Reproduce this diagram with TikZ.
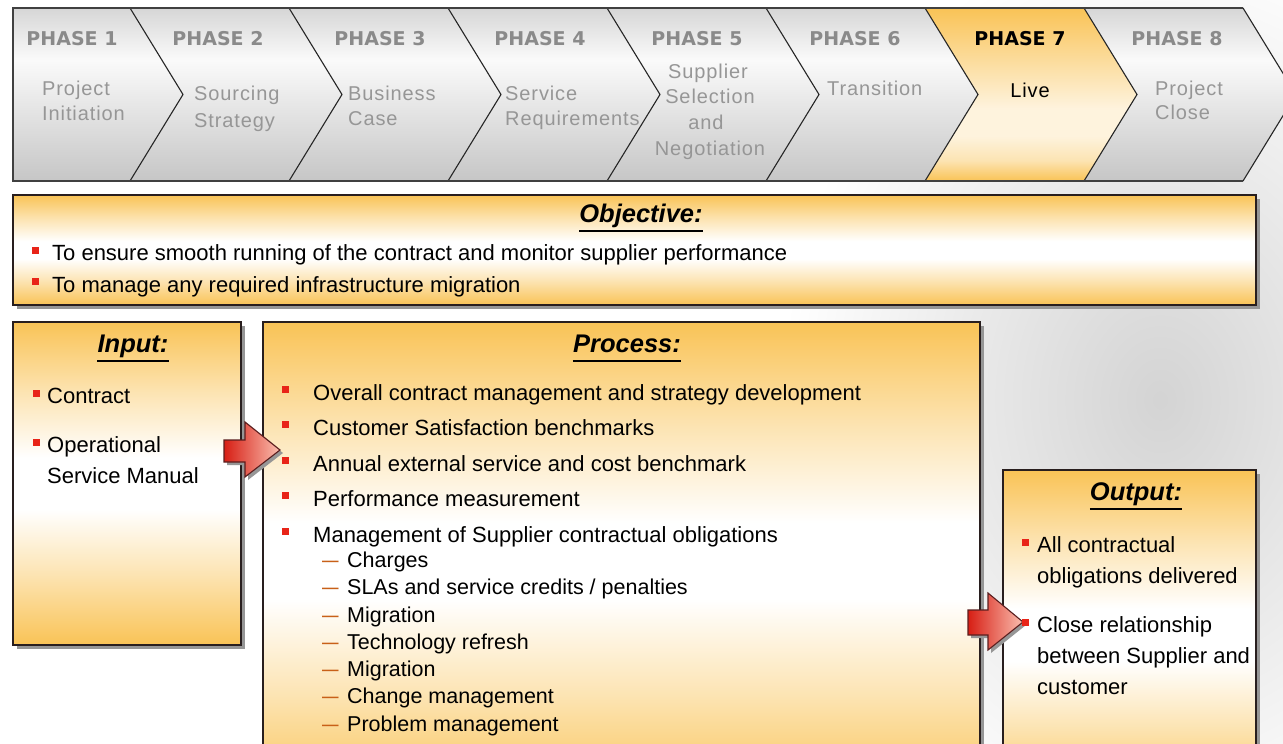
\documentclass[tikz,border=0pt]{standalone}
\usepackage{fontspec}
\setmainfont{Liberation Sans}
\newfontfamily\phasefont{DejaVu Sans}
\newfontfamily\hdrfont{Liberation Sans}[LetterSpace=4.5]

\definecolor{orng}{RGB}{249,195,86}
\colorlet{orngmid}{orng!45!white}
\colorlet{orngpale}{orng!20!white}
\definecolor{hdrtop}{RGB}{214,214,214}
\definecolor{hdrbot}{RGB}{198,198,198}
\definecolor{hdrwhite}{RGB}{250,250,250}
\definecolor{phasegrey}{RGB}{138,138,138}
\definecolor{descgrey}{RGB}{150,150,150}
\definecolor{bulletred}{RGB}{232,36,24}
\definecolor{dashorange}{RGB}{200,96,24}
\definecolor{boxline}{RGB}{40,30,30}
\definecolor{shadowgrey}{RGB}{150,150,150}
\definecolor{arrowdark}{RGB}{215,30,20}
\definecolor{arrowlight}{RGB}{250,190,175}
\definecolor{arrowline}{RGB}{90,30,30}

% vertical bands: the path's box maps to 25bp (bottom) .. 75bp (top)
\pgfdeclareverticalshading{greyband}{100bp}{color(0bp)=(hdrbot); color(25bp)=(hdrbot); color(60bp)=(hdrwhite); color(75bp)=(hdrtop); color(100bp)=(hdrtop)}
\pgfdeclareverticalshading{phaseorange}{100bp}{color(0bp)=(orng); color(25bp)=(orng); color(31bp)=(orngmid); color(38bp)=(orngpale); color(46bp)=(orngpale); color(75bp)=(orng); color(100bp)=(orng)}
\pgfdeclareverticalshading{orangeband}{100bp}{color(0bp)=(orng); color(25bp)=(orng); color(36bp)=(orngmid); color(46bp)=(white); color(54bp)=(white); color(64bp)=(orngmid); color(75bp)=(orng); color(100bp)=(orng)}

\begin{document}
\begin{tikzpicture}[x=1pt,y=-1pt,
  txt/.style={font=\fontsize{22}{26}\selectfont, inner sep=0pt, anchor=base west, text=black},
  subtxt/.style={txt, font=\fontsize{21.5}{25}\selectfont},
  hdrtxt/.style={font=\hdrfont\fontsize{20}{24}\selectfont, text=descgrey, inner sep=0pt, anchor=base west},
  phaselbl/.style={font=\phasefont\bfseries\fontsize{19}{22}\selectfont, text=phasegrey, inner sep=0pt, anchor=base},
  ttl/.style={font=\bfseries\itshape\fontsize{25.5}{28}\selectfont, inner sep=0pt, anchor=base},
  ttlrule/.style={line width=2pt},
  bul/.style={fill=bulletred, minimum size=7pt, inner sep=0pt},
  subdash/.style={font=\fontsize{22}{26}\selectfont, text=dashorange, inner sep=0pt, anchor=base west},
  card/.style={shading=orangeband, draw=boxline, line width=1.3pt},
  cardshadow/.style={fill=shadowgrey},
  chev/.style={draw=black!85, line width=1.1pt},
  hdrframe/.style={draw=black!75, line width=1.8pt},
  blockarrow/.style={left color=arrowdark, right color=arrowlight, draw=arrowline, line width=1.1pt}
]
\useasboundingbox (0,0) rectangle (1283,744);
\clip (0,0) rectangle (1283,744);

% backdrop with a faint grey patch on the right
\fill[white] (0,0) rectangle (1283,744);
\shade[inner color=gray!34, outer color=white] (1160,400) ellipse [x radius=380, y radius=470];

% ---------- phase ribbon ----------
\shade[shading=greyband] (13,8) -- (130,8) -- (183,94.5) -- (130,181) -- (13,181) -- cycle;
\foreach \i/\sh in {1/greyband,2/greyband,3/greyband,4/greyband,5/greyband,6/phaseorange,7/greyband}{
  \pgfmathsetmacro{\xa}{130+159*(\i-1)}
  \pgfmathsetmacro{\xb}{130+159*\i}
  \shade[shading=\sh] (\xa,8) -- (\xb,8) -- (\xb+53,94.5) -- (\xb,181) -- (\xa,181) -- (\xa+53,94.5) -- cycle;
}
\foreach \k in {0,...,7}{
  \pgfmathsetmacro{\xc}{130+159*\k}
  \draw[chev] (\xc,8) -- (\xc+53,94.5) -- (\xc,181);
}
\draw[hdrframe] (1243,8) -- (13,8) -- (13,181) -- (1243,181);

\node[phaselbl] (p1) at (72,45) {PHASE 1};
\node[phaselbl] (p2) at (218,45) {PHASE 2};
\node[phaselbl] (p3) at (380,45) {PHASE 3};
\node[phaselbl] (p4) at (540,45) {PHASE 4};
\node[phaselbl] (p5) at (697,45) {PHASE 5};
\node[phaselbl] (p6) at (855,45) {PHASE 6};
\node[phaselbl, text=black] (p7) at (1020,45) {PHASE 7};
\node[phaselbl] (p8) at (1177,45) {PHASE 8};

\node[hdrtxt] (d1a) at (42,95) {Project};
\node[hdrtxt] (d1b) at (42,120) {Initiation};
\node[hdrtxt] (d2a) at (194,100) {Sourcing};
\node[hdrtxt] (d2b) at (194,127) {Strategy};
\node[hdrtxt] (d3a) at (348,100) {Business};
\node[hdrtxt] (d3b) at (348,125) {Case};
\node[hdrtxt] (d4a) at (505,100) {Service};
\node[hdrtxt] (d4b) at (505,125) {Requirements};
\node[hdrtxt, anchor=base] (d5a) at (708,78) {Supplier};
\node[hdrtxt, anchor=base] (d5b) at (710,103) {Selection};
\node[hdrtxt, anchor=base] (d5c) at (706,129) {and};
\node[hdrtxt, anchor=base] (d5d) at (710,155) {Negotiation};
\node[hdrtxt] (d6) at (827,95) {Transition};
\node[hdrtxt, anchor=base, text=black] (d7) at (1030,97) {Live};
\node[hdrtxt] (d8a) at (1155,95) {Project};
\node[hdrtxt] (d8b) at (1155,119) {Close};

% ---------- panels ----------
\fill[cardshadow] (17,199) rectangle (1260,309);
\shade[card] (13,195) rectangle (1256,305);

\fill[cardshadow] (17,326) rectangle (245,649);
\shade[card] (13,322) rectangle (241,645);

\fill[cardshadow] (267,326) rectangle (984,804);
\shade[card] (263,322) rectangle (980,800);

\fill[cardshadow] (1007,474) rectangle (1260,804);
\shade[card] (1003,470) rectangle (1256,800);

% ---------- block arrows between panels ----------
\fill[shadowgrey] (227,443) -- (248,443) -- (248,425) -- (283,453) -- (248,480) -- (248,465) -- (227,465) -- cycle;
\shade[blockarrow] (224,440) -- (245,440) -- (245,422) -- (280,450) -- (245,477) -- (245,462) -- (224,462) -- cycle;
\fill[shadowgrey] (971,613) -- (991,613) -- (991,596) -- (1026,625) -- (991,653) -- (991,638) -- (971,638) -- cycle;
\shade[blockarrow] (968,610) -- (988,610) -- (988,593) -- (1023,622) -- (988,650) -- (988,635) -- (968,635) -- cycle;

% ---------- objective ----------
\node[ttl] (objT) at (641,222) {Objective:};
\draw[ttlrule] ([yshift=-9pt]objT.base west) -- ([yshift=-9pt]objT.base east);
\node[bul] (ob1) at (35,250) {};
\node[txt] (ot1) at (52,260) {To ensure smooth running of the contract and monitor supplier performance};
\node[bul] (ob2) at (35,281) {};
\node[txt] (ot2) at (52,292) {To manage any required infrastructure migration};

% ---------- input ----------
\node[ttl] (inT) at (133,352) {Input:};
\draw[ttlrule] ([yshift=-9pt]inT.base west) -- ([yshift=-9pt]inT.base east);
\node[bul] (ib1) at (36,393) {};
\node[txt] (it1) at (47,403) {Contract};
\node[bul] (ib2) at (36,442) {};
\node[txt] (it2a) at (47,452) {Operational};
\node[txt] (it2b) at (47,483) {Service Manual};

% ---------- process ----------
\node[ttl] (prT) at (627,352) {Process:};
\draw[ttlrule] ([yshift=-9pt]prT.base west) -- ([yshift=-9pt]prT.base east);
\node[bul] (pb1) at (285,389) {};
\node[txt] (pt1) at (313,400) {Overall contract management and strategy development};
\node[bul] (pb2) at (285,424) {};
\node[txt] (pt2) at (313,435) {Customer Satisfaction benchmarks};
\node[bul] (pb3) at (285,460) {};
\node[txt] (pt3) at (313,471) {Annual external service and cost benchmark};
\node[bul] (pb4) at (285,495) {};
\node[txt] (pt4) at (313,506) {Performance measurement};
\node[bul] (pb5) at (285,531) {};
\node[txt] (pt5) at (313,542) {Management of Supplier contractual obligations};

\foreach \n/\yb/\t in {1/567/{Charges}, 2/594.5/{SLAs and service credits / penalties}, 3/622/{Migration},
                       4/649/{Technology refresh}, 5/676/{Migration}, 6/703/{Change management},
                       7/731/{Problem management}}{
  \node[subdash] (sd\n) at (322,\yb) {\scalebox{1.35}[1]{–}};
  \node[subtxt] (st\n) at (347,\yb) {\t};
}

% ---------- output ----------
\node[ttl] (ouT) at (1136,500) {Output:};
\draw[ttlrule] ([yshift=-9pt]ouT.base west) -- ([yshift=-9pt]ouT.base east);
\node[bul] (ub1) at (1025,542) {};
\node[txt] (ut1a) at (1037,552) {All contractual};
\node[txt] (ut1b) at (1037,583) {obligations delivered};
\node[bul] (ub2) at (1025,622) {};
\node[txt] (ut2a) at (1037,632) {Close relationship};
\node[txt] (ut2b) at (1037,663) {between Supplier and};
\node[txt] (ut2c) at (1037,694) {customer};
\end{tikzpicture}
\end{document}
